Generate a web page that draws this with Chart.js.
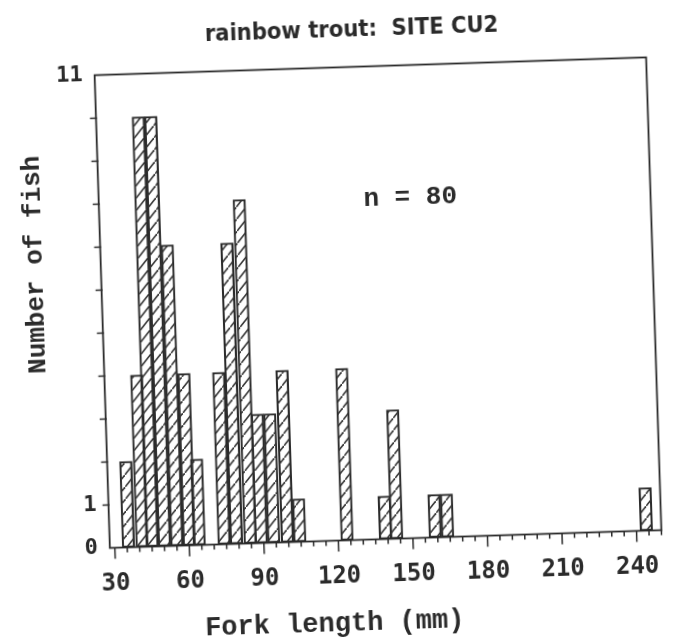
<!DOCTYPE html>
<html>
<head>
<meta charset="utf-8">
<title>rainbow trout: SITE CU2</title>
<script src="https://cdn.jsdelivr.net/npm/chart.js@4.4.1/dist/chart.umd.min.js"></script>
<style>
  html, body { margin: 0; padding: 0; background: #ffffff; }
  #sheet {
    width: 674px; height: 644px; background: #ffffff;
    transform: rotate(-1.85deg); transform-origin: 337px 322px;
  }
  canvas { display: block; }
</style>
</head>
<body>
<div id="sheet"><canvas id="hist" width="674" height="644"></canvas></div>
<script>
// Fork-length frequency of rainbow trout sampled at site CU2
const forkLengthMm = [35.5, 41, 45, 50, 55, 60, 64, 74, 79, 84.5, 89, 94, 99.5, 104.5, 123.5, 139, 143.5, 159, 164, 244];
const fishCount    = [2, 4, 10, 10, 7, 4, 2, 4, 7, 8, 3, 3, 4, 1, 4, 1, 3, 1, 1, 1];
const xTickValues  = [30, 60, 90, 120, 150, 180, 210, 240];
const yTickValues  = [0, 1, 11];

const chartTitle = 'rainbow trout:  SITE CU2';
const xTitle = 'Fork length (mm)';
const yTitle = 'Number of fish';

const INK = '#2b2b2b';
const MONO = '"DejaVu Sans Mono", "Liberation Mono", monospace';
const TYPE = '"Courier New", "Liberation Mono", monospace';

// diagonal hatch used to fill the bars
function hatchPattern() {
  const c = document.createElement('canvas');
  c.width = 10; c.height = 12;
  const g = c.getContext('2d');
  g.strokeStyle = '#363636';
  g.lineWidth = 1.6;
  g.beginPath();
  g.moveTo(-2, 14.4); g.lineTo(12, -2.4);
  g.stroke();
  return g.createPattern(c, 'repeat');
}

const points = forkLengthMm.map((len, i) => ({ x: len, y: fishCount[i] }));
const total = fishCount.reduce((a, b) => a + b, 0);

const decorations = {
  id: 'decorations',
  beforeDraw(chart) {
    const ctx = chart.ctx;
    ctx.save();
    ctx.fillStyle = '#ffffff';
    ctx.fillRect(0, 0, chart.width, chart.height);
    ctx.restore();
  },
  afterDraw(chart) {
    const { ctx, chartArea: a, scales: { x, y } } = chart;
    ctx.save();
    ctx.strokeStyle = INK;

    // frame around the plotting area
    ctx.lineWidth = 1.8;
    ctx.strokeRect(a.left, a.top, a.right - a.left, a.bottom - a.top);

    // x tick marks: long every 30 mm, short every 5 mm
    ctx.lineWidth = 1.5;
    for (let v = 30; v <= x.max; v += 5) {
      const px = x.getPixelForValue(v);
      const len = xTickValues.includes(v) ? 11 : 5;
      ctx.beginPath();
      ctx.moveTo(px, a.bottom);
      ctx.lineTo(px, a.bottom + len);
      ctx.stroke();
    }
    // y tick marks at each whole count
    for (let v = 1; v < y.max; v++) {
      const py = y.getPixelForValue(v);
      ctx.beginPath();
      ctx.moveTo(a.left - 6, py);
      ctx.lineTo(a.left + 1, py);
      ctx.stroke();
    }

    ctx.fillStyle = INK;
    ctx.textAlign = 'center';
    ctx.textBaseline = 'middle';

    // chart title
    ctx.font = 'bold 23.5px "DejaVu Sans Condensed", "DejaVu Sans", sans-serif';
    ctx.fillText(chartTitle, 361, 31);

    // axis titles
    ctx.font = 'bold 27px ' + TYPE;
    ctx.fillText(xTitle, 325, 624);
    ctx.save();
    ctx.translate(37, 255);
    ctx.rotate(-Math.PI / 2);
    ctx.font = 'bold 26px ' + TYPE;
    ctx.fillText(yTitle, 0, 0);
    ctx.restore();

    // sample size
    ctx.textAlign = 'left';
    ctx.font = 'bold 26px ' + TYPE;
    ctx.fillText('n = ' + total, x.getPixelForValue(134.5), y.getPixelForValue(7.9));

    ctx.restore();
  }
};

new Chart(document.getElementById('hist'), {
  type: 'bar',
  data: {
    datasets: [{
      data: points,
      backgroundColor: hatchPattern(),
      borderColor: INK,
      borderWidth: 1.5,
      borderSkipped: false,
      barThickness: 12.5
    }]
  },
  options: {
    responsive: false,
    animation: false,
    layout: { padding: { top: 67.5, right: 15.7, left: 0, bottom: 0 } },
    plugins: { legend: { display: false }, tooltip: { enabled: false }, title: { display: false } },
    scales: {
      x: {
        type: 'linear',
        min: 28, max: 250,
        offset: false,
        grid: { display: false, drawTicks: false },
        border: { display: false },
        afterBuildTicks: s => { s.ticks = xTickValues.map(v => ({ value: v })); },
        afterFit: s => { s.height = 103.5; },
        ticks: {
          autoSkip: false, maxRotation: 0, padding: 22,
          color: INK,
          font: { family: MONO, size: 24, weight: 'bold' }
        }
      },
      y: {
        min: 0, max: 11,
        grid: { display: false, drawTicks: false },
        border: { display: false },
        afterBuildTicks: s => { s.ticks = yTickValues.map(v => ({ value: v })); },
        afterFit: s => { s.width = 102.7; },
        ticks: {
          autoSkip: false, padding: 12,
          color: INK,
          font: { family: MONO, size: 22, weight: 'bold' }
        }
      }
    }
  },
  plugins: [decorations]
});
</script>
</body>
</html>
